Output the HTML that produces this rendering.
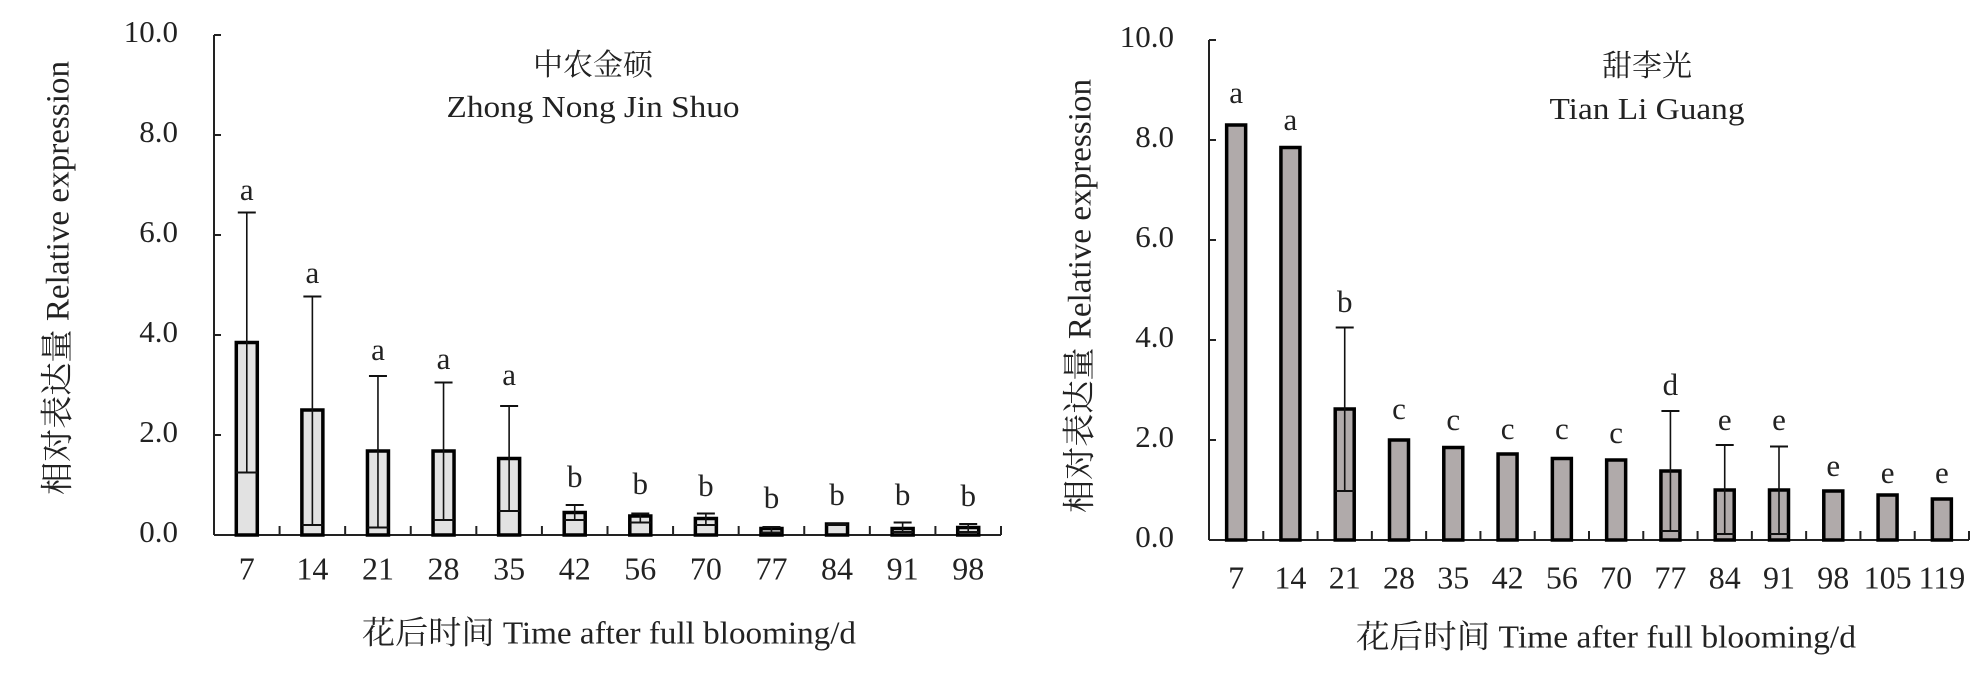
<!DOCTYPE html>
<html><head><meta charset="utf-8"><style>
html,body{margin:0;padding:0;background:#fff;}
svg{display:block;}
text{font-family:"Liberation Serif","Noto Serif CJK SC","Noto Sans CJK SC",serif;fill:#222;}
</style></head><body>
<svg id="s" width="1987" height="687" viewBox="0 0 1987 687" xmlns="http://www.w3.org/2000/svg">
<g id="L">
<text x="61" y="278" font-size="33" text-anchor="middle" dominant-baseline="middle" transform="rotate(-90 61 278)" textLength="434" lengthAdjust="spacingAndGlyphs">相对表达量 Relative expression</text>
<text x="593" y="68" font-size="30" text-anchor="middle" dominant-baseline="middle">中农金硕</text>
<text x="593" y="110" font-size="31" text-anchor="middle" dominant-baseline="middle" textLength="293" lengthAdjust="spacingAndGlyphs">Zhong Nong Jin Shuo</text>
<text x="609" y="636" font-size="32" text-anchor="middle" dominant-baseline="middle" textLength="494" lengthAdjust="spacingAndGlyphs">花后时间 Time after full blooming/d</text>
</g>
<g id="R">
<text x="1083" y="296" font-size="33" text-anchor="middle" dominant-baseline="middle" transform="rotate(-90 1083 296)" textLength="434" lengthAdjust="spacingAndGlyphs">相对表达量 Relative expression</text>
<text x="1647" y="69" font-size="30" text-anchor="middle" dominant-baseline="middle">甜李光</text>
<text x="1647" y="112" font-size="31" text-anchor="middle" dominant-baseline="middle" textLength="195" lengthAdjust="spacingAndGlyphs">Tian Li Guang</text>
<text x="1606" y="640" font-size="32" text-anchor="middle" dominant-baseline="middle" textLength="500" lengthAdjust="spacingAndGlyphs">花后时间 Time after full blooming/d</text>
</g>
</svg>
<script>
const NS="http://www.w3.org/2000/svg",svg=document.getElementById("s");
function el(t,a,txt){const e=document.createElementNS(NS,t);for(const k in a)e.setAttribute(k,a[k]);if(txt!==undefined)e.textContent=txt;svg.appendChild(e);return e;}
function chart(o){
 const {ax,y0,y10,end,cats,vals,err,low,lets,lety,fill,bw,tly,tlx}=o;
 const u=(y0-y10)/10,sp=(end-ax)/cats.length;
 el("line",{x1:ax,y1:y10,x2:ax,y2:y0,stroke:"#222","stroke-width":2});
 el("line",{x1:ax,y1:y0,x2:end,y2:y0,stroke:"#222","stroke-width":2});
 for(let i=0;i<=5;i++){const y=y0-i*2*u;
  el("line",{x1:ax,y1:y,x2:ax+7,y2:y,stroke:"#222","stroke-width":2});
  el("text",{x:tlx,y:y,"font-size":31,"text-anchor":"end","dominant-baseline":"middle"},(i*2).toFixed(1));}
 for(let i=1;i<=cats.length;i++){const x=ax+i*sp;el("line",{x1:x,y1:y0,x2:x,y2:y0-9,stroke:"#222","stroke-width":2});}
 cats.forEach((c,i)=>{const cx=ax+sp*(i+0.5),top=y0-vals[i]*u;
  el("rect",{x:cx-bw/2,y:top,width:bw,height:y0-top,fill:fill,stroke:"#000","stroke-width":3.5});
  if(err[i]!=null){const et=y0-err[i]*u,lb=y0-low[i]*u;
   el("line",{x1:cx,y1:et,x2:cx,y2:lb,stroke:"#111","stroke-width":1.6});
   el("line",{x1:cx-9,y1:et,x2:cx+9,y2:et,stroke:"#111","stroke-width":2});
   el("line",{x1:cx-bw/2,y1:lb,x2:cx+bw/2,y2:lb,stroke:"#111","stroke-width":2});}
  el("text",{x:cx,y:tly,"font-size":32,"text-anchor":"middle","dominant-baseline":"middle"},c);
  el("text",{x:cx,y:lety[i],"font-size":31,"text-anchor":"middle","dominant-baseline":"middle"},lets[i]);
 });
}
chart({ax:214,y0:535,y10:35,end:1001,fill:"#e2e2e2",bw:21,tly:572,tlx:178,
 cats:[7,14,21,28,35,42,56,70,77,84,91,98],
 vals:[3.85,2.5,1.68,1.68,1.53,0.45,0.38,0.33,0.13,0.22,0.13,0.15],
 err:[6.45,4.77,3.18,3.05,2.58,0.6,0.43,0.43,0.16,0.22,0.25,0.22],
 low:[1.25,0.2,0.15,0.3,0.48,0.3,0.25,0.2,0.05,0.2,0.06,0.06],
 lets:["a","a","a","a","a","b","b","b","b","b","b","b"],
 lety:[193,276,353,362,378,480,487,489,501,498,498,499]});
chart({ax:1209,y0:540,y10:40,end:1969,fill:"#b0aaaa",bw:19,tly:581,tlx:1174,
 cats:[7,14,21,28,35,42,56,70,77,84,91,98,105,119],
 vals:[8.3,7.85,2.62,2.0,1.85,1.72,1.63,1.6,1.38,1.0,1.0,0.98,0.9,0.82],
 err:[null,null,4.25,null,null,null,null,null,2.58,1.9,1.87,null,null,null],
 low:[0,0,0.98,0,0,0,0,0,0.18,0.12,0.12,0,0,0],
 lets:["a","a","b","c","c","c","c","c","d","e","e","e","e","e"],
 lety:[96,123,305,412,423,432,432,436,388,423,423,469,476,476]});
</script>
</body></html>
